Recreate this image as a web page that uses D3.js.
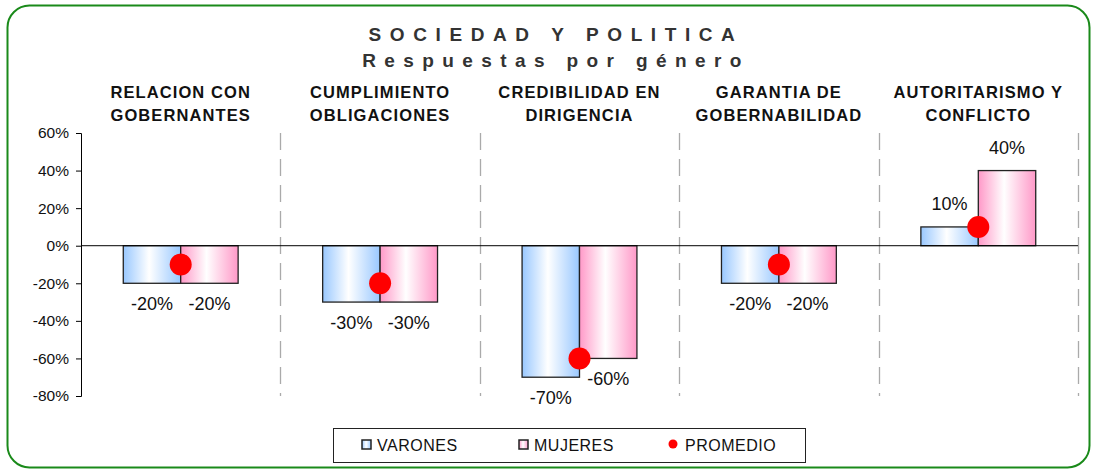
<!DOCTYPE html>
<html>
<head>
<meta charset="utf-8">
<script src="https://cdn.jsdelivr.net/npm/d3@7"></script>
<style>
  body { margin: 0; background: #fff; font-family: "Liberation Sans", Arial, sans-serif; }
</style>
</head>
<body>
<svg id="chart" width="1094" height="471"></svg>
<script>
// data
var categories = [
  ["RELACION CON", "GOBERNANTES"],
  ["CUMPLIMIENTO", "OBLIGACIONES"],
  ["CREDIBILIDAD EN", "DIRIGENCIA"],
  ["GARANTIA DE", "GOBERNABILIDAD"],
  ["AUTORITARISMO Y", "CONFLICTO"]
];
var varones = [-0.20, -0.30, -0.70, -0.20, 0.10];
var mujeres = [-0.20, -0.30, -0.60, -0.20, 0.40];
var promedio = [-0.10, -0.20, -0.60, -0.10, 0.10];
var yTicks = [0.6, 0.4, 0.2, 0, -0.2, -0.4, -0.6, -0.8];
var legendItems = ["VARONES", "MUJERES", "PROMEDIO"];

var svg = d3.select("#chart");
var margin = {top: 133, right: 16, bottom: 75, left: 81},
  width = 1078 - margin.left,
  height = 396 - margin.top;

var pct = function (d) { return Math.round(d * 100) + "%"; };

var defs = svg.append("defs");
function grad(id, edge) {
  var g = defs.append("linearGradient").attr("id", id)
    .attr("x1", "0%").attr("x2", "100%").attr("y1", "0%").attr("y2", "0%");
  g.append("stop").attr("offset", "0%").attr("stop-color", edge);
  g.append("stop").attr("offset", "45%").attr("stop-color", "#ffffff");
  g.append("stop").attr("offset", "100%").attr("stop-color", edge);
}
grad("gBlue", "#99c8ff");
grad("gPink", "#ff99c8");

// outer frame
svg.append("rect")
  .attr("x", 7.5).attr("y", 5.5).attr("width", 1082).attr("height", 462)
  .attr("rx", 22).attr("ry", 22)
  .attr("fill", "#fff").attr("stroke", "#1a8a1a").attr("stroke-width", 2);

// titles
svg.append("text").attr("x", 556).attr("y", 41)
  .attr("text-anchor", "middle")
  .style("font-size", "19px").style("font-weight", "bold")
  .style("letter-spacing", "8.6px").attr("fill", "#333")
  .text("SOCIEDAD Y POLITICA");
svg.append("text").attr("x", 556).attr("y", 67)
  .attr("text-anchor", "middle")
  .style("font-size", "19px").style("font-weight", "bold")
  .style("letter-spacing", "8.4px").attr("fill", "#333")
  .text("Respuestas por género");

var g = svg.append("g").attr("transform", "translate(" + margin.left + "," + margin.top + ")");

var x = d3.scaleBand().domain(d3.range(categories.length)).range([0, width]).paddingInner(0).paddingOuter(0);
var y = d3.scaleLinear().domain([-0.8, 0.6]).range([height, 0]);
var barW = x.bandwidth() * 0.288;

// separators
g.selectAll(".sep").data(d3.range(1, categories.length + 1)).enter().append("line")
  .attr("x1", function (d) { return Math.round(d * x.bandwidth()) + 0.5; })
  .attr("x2", function (d) { return Math.round(d * x.bandwidth()) + 0.5; })
  .attr("y1", 0).attr("y2", height)
  .attr("stroke", "#aaa").attr("stroke-width", 1.3)
  .attr("stroke-dasharray", "17,9");

// category headers
categories.forEach(function (c, i) {
  var cx = margin.left + x(i) + x.bandwidth() / 2;
  var t = svg.append("text")
    .attr("x", cx)
    .attr("text-anchor", "middle")
    .style("font-size", "16.5px").style("font-weight", "bold")
    .style("letter-spacing", "1.1px").attr("fill", "#111");
  t.append("tspan").attr("x", cx).attr("y", 98).text(c[0]);
  t.append("tspan").attr("x", cx).attr("y", 121).text(c[1]);
});

// y axis
var yAxis = g.append("g").call(d3.axisLeft(y).tickValues(yTicks).tickSize(5).tickFormat(pct));
yAxis.select(".domain").attr("stroke", "#000");
yAxis.selectAll("text").style("font-size", "15.5px").style("font-family", "Liberation Sans, Arial, sans-serif")
  .attr("fill", "#111").attr("x", -12);
yAxis.selectAll(".tick line").attr("stroke", "#000");

// bars
function drawBars(values, offset, fill) {
  g.selectAll(null).data(values).enter().append("rect")
    .attr("x", function (d, i) { return x(i) + x.bandwidth() / 2 + offset; })
    .attr("y", function (d) { return y(Math.max(0, d)); })
    .attr("width", barW)
    .attr("height", function (d) { return Math.abs(y(d) - y(0)); })
    .attr("fill", fill).attr("stroke", "#222").attr("stroke-width", 1.3);
}
drawBars(varones, -barW, "url(#gBlue)");
drawBars(mujeres, 0, "url(#gPink)");

// zero line
g.append("line").attr("x1", 0).attr("x2", width).attr("y1", y(0)).attr("y2", y(0))
  .attr("stroke", "#000").attr("stroke-width", 1);

// labels
function drawLabels(values, dx) {
  g.selectAll(null).data(values).enter().append("text")
    .attr("x", function (d, i) { return x(i) + x.bandwidth() / 2 + dx; })
    .attr("y", function (d) { return d < 0 ? y(d) + 27 : y(d) - 17; })
    .attr("text-anchor", "middle")
    .style("font-size", "18px").attr("fill", "#111")
    .text(pct);
}
drawLabels(varones, -barW / 2);
drawLabels(mujeres, barW / 2);

// promedio dots
g.selectAll(".dot").data(promedio).enter().append("circle")
  .attr("cx", function (d, i) { return x(i) + x.bandwidth() / 2; })
  .attr("cy", function (d) { return y(d); })
  .attr("r", 11).attr("fill", "#ff0000");

// legend
var lg = svg.append("g");
lg.append("rect").attr("x", 333.5).attr("y", 428.5).attr("width", 472).attr("height", 34)
  .attr("fill", "#fff").attr("stroke", "#222").attr("stroke-width", 1);
var lx = [362, 519, 668];
lg.append("rect").attr("x", lx[0]).attr("y", 440).attr("width", 9).attr("height", 9)
  .attr("fill", "url(#gBlue)").attr("stroke", "#222").attr("stroke-width", 1.5);
lg.append("rect").attr("x", lx[1]).attr("y", 440).attr("width", 9).attr("height", 9)
  .attr("fill", "url(#gPink)").attr("stroke", "#222").attr("stroke-width", 1.5);
lg.append("circle").attr("cx", lx[2] + 5).attr("cy", 444).attr("r", 4.5).attr("fill", "#ff0000");
legendItems.forEach(function (t, i) {
  lg.append("text").attr("x", lx[i] + (i === 2 ? 17 : 15)).attr("y", 451)
    .style("font-size", "16px").style("letter-spacing", "0.5px").attr("fill", "#111").text(t);
});
</script>
</body>
</html>
